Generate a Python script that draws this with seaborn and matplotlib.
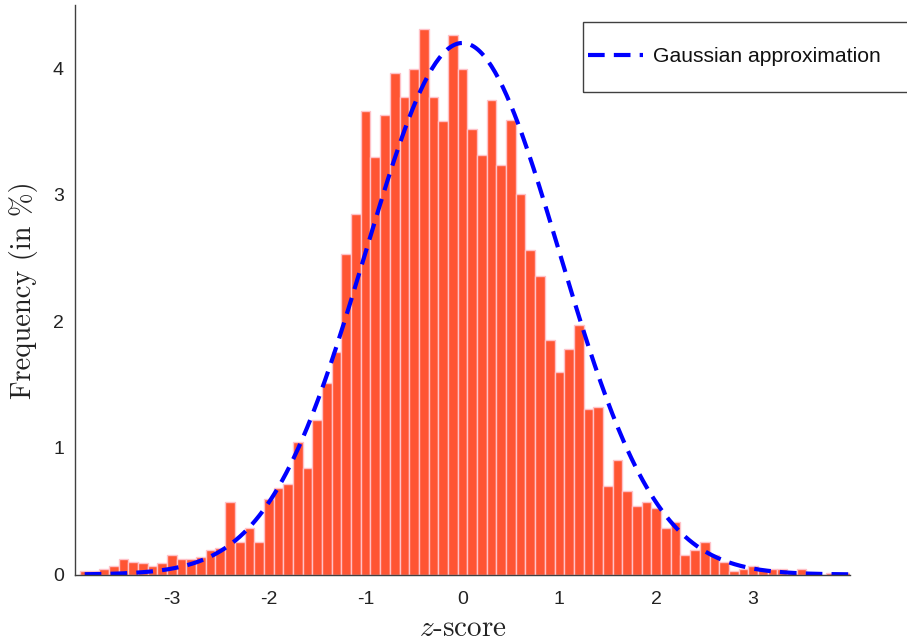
import numpy as np
import pandas as pd
import matplotlib
matplotlib.use("Agg")
import matplotlib.pyplot as plt
from matplotlib.patches import Rectangle
import seaborn as sns

# ---- data ----
bin_centers = [-3.9, -3.8, -3.7, -3.6, -3.5, -3.4, -3.3, -3.2, -3.1, -3.0,
               -2.9, -2.8, -2.7, -2.6, -2.5, -2.4, -2.3, -2.2, -2.1, -2.0,
               -1.9, -1.8, -1.7, -1.6, -1.5, -1.4, -1.3, -1.2, -1.1, -1.0,
               -0.9, -0.8, -0.7, -0.6, -0.5, -0.4, -0.3, -0.2, -0.1, 0.0,
               0.1, 0.2, 0.3, 0.4, 0.5, 0.6, 0.7, 0.8, 0.9, 1.0,
               1.1, 1.2, 1.3, 1.4, 1.5, 1.6, 1.7, 1.8, 1.9, 2.0,
               2.1, 2.2, 2.3, 2.4, 2.5, 2.6, 2.7, 2.8, 2.9, 3.0,
               3.1, 3.2, 3.3, 3.4, 3.5, 3.6, 3.7, 3.8, 3.9, 4.0]
frequency_pct = [0.03, 0.03, 0.047, 0.066, 0.119, 0.10, 0.087, 0.066, 0.087, 0.156,
                 0.119, 0.119, 0.137, 0.19, 0.206, 0.57, 0.259, 0.364, 0.259, 0.594,
                 0.68, 0.714, 1.046, 0.84, 1.22, 1.516, 1.762, 2.531, 2.845, 3.665,
                 3.30, 3.631, 3.962, 3.773, 3.996, 4.307, 3.773, 3.58, 4.259, 3.996,
                 3.524, 3.317, 3.753, 3.232, 3.594, 3.003, 2.565, 2.356, 1.85, 1.604,
                 1.782, 1.971, 1.309, 1.326, 0.70, 0.905, 0.66, 0.54, 0.573, 0.522,
                 0.364, 0.417, 0.156, 0.19, 0.259, 0.156, 0.10, 0.029, 0.047, 0.066,
                 0.047, 0.047, 0.047, 0.013, 0.047, 0.013, 0.0, 0.013, 0.013, 0.013]
bin_width = 0.1

# Gaussian approximation parameters
gauss_mean = 0.0
gauss_sigma = 1.0
gauss_peak = 4.2
curve_x_range = (-3.9, 4.0)

xticks = [-3, -2, -1, 0, 1, 2, 3]
yticks = [0, 1, 2, 3, 4]
xlim = (-4.0, 4.0)
ylim = (0.0, 4.5)

legend_label = "Gaussian approximation"
xlabel = "$z$-score"
ylabel = "Frequency (in %)"

# ---- styling ----
sns.set_theme(style="white")
plt.rcParams["font.family"] = ["Liberation Sans", "DejaVu Sans"]
plt.rcParams["axes.unicode_minus"] = False
plt.rcParams["mathtext.fontset"] = "cm"

W, H = 907, 643
fig = plt.figure(figsize=(W / 100, H / 100), dpi=100)
ax_l, ax_r, ax_t, ax_b = 75, 850, 5, 574.5
ax = fig.add_axes([ax_l / W, 1 - ax_b / H, (ax_r - ax_l) / W, (ax_b - ax_t) / H])

df = pd.DataFrame({"z": bin_centers, "freq": frequency_pct})
lo = bin_centers[0] - bin_width / 2
hi = bin_centers[-1] + bin_width / 2
sns.histplot(data=df, x="z", weights="freq", binwidth=bin_width, binrange=(lo, hi),
             ax=ax, color="#FF5533", edgecolor="#FFC2C8", linewidth=1.0, alpha=1.0,
             zorder=1)

gx = np.linspace(curve_x_range[0], curve_x_range[1], 400)
gy = gauss_peak * np.exp(-0.5 * ((gx - gauss_mean) / gauss_sigma) ** 2)
cdf = pd.DataFrame({"z": gx, "g": gy})
sns.lineplot(data=cdf, x="z", y="g", ax=ax, color="#0000FF", linewidth=3.0,
             label=legend_label, zorder=3)
ax.lines[-1].set_dashes((4.0, 2.2))

ax.set_xlim(*xlim)
ax.set_ylim(*ylim)
ax.set_xticks(xticks)
ax.set_xticklabels([str(t) for t in xticks])
ax.set_yticks(yticks)
ax.set_yticklabels([str(t) for t in yticks])

for s in ["top", "right"]:
    ax.spines[s].set_visible(False)
for s in ["left", "bottom"]:
    ax.spines[s].set_color("#404040")
    ax.spines[s].set_linewidth(1.0)
    ax.spines[s].set_zorder(4)

ax.tick_params(axis="both", direction="in", length=5, width=1.0, color="#404040",
               labelsize=14, labelcolor="#222222")
ax.tick_params(axis="x", pad=12)
ax.tick_params(axis="y", pad=8)

ax.set_xlabel("")
ax.set_ylabel("")
fig.text(463 / W, 1 - 629 / H, xlabel, fontsize=21, family="cmr10",
         ha="center", va="center", color="#222222")
fig.text(24 / W, 1 - 290 / H, ylabel, fontsize=20.5, family="cmr10", rotation=90,
         ha="center", va="center", color="#222222")

# legend (frame drawn separately: in the reference it runs past the right edge)
leg_l, leg_t, leg_bt = 583, 22, 92
leg = ax.legend(loc="center left", bbox_to_anchor=((leg_l + 5) / W, 1 - (leg_t + leg_bt) / 2 / H),
                bbox_transform=fig.transFigure, borderaxespad=0, frameon=False,
                fontsize=15.2, handlelength=2.6, handletextpad=0.5, borderpad=0.0)
for t in leg.get_texts():
    t.set_color("#111111")
fig.patches.append(Rectangle((leg_l / W, 1 - leg_bt / H), (W + 20 - leg_l) / W,
                             (leg_bt - leg_t) / H, transform=fig.transFigure,
                             facecolor="none", edgecolor="#404040", linewidth=1.0,
                             clip_on=False, zorder=5))

fig.savefig("out.png", dpi=100)
